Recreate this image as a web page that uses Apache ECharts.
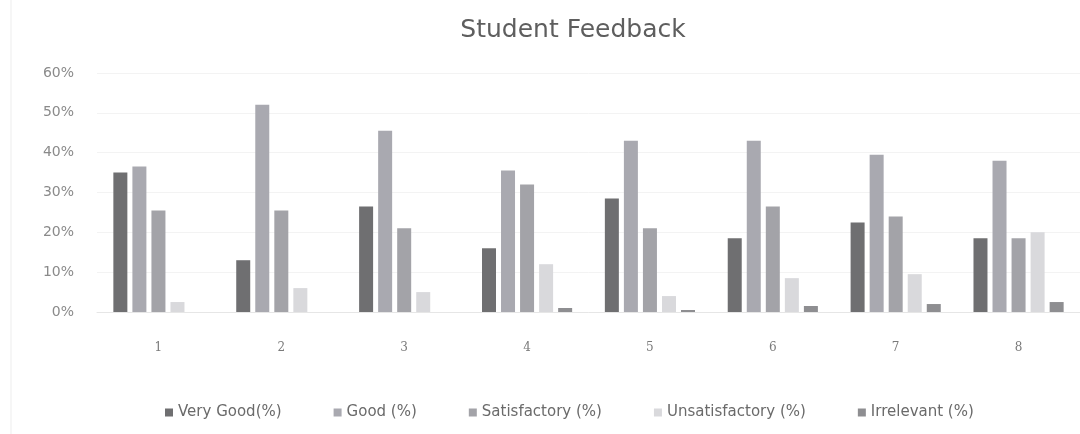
<!DOCTYPE html>
<html>
<head>
<meta charset="utf-8">
<script src="https://cdn.jsdelivr.net/npm/echarts@6/dist/echarts.min.js"></script>
<style>
html, body { margin: 0; padding: 0; background: #ffffff; }
#chart { width: 1080px; height: 434px; }
</style>
</head>
<body>
<div id="chart"></div>
<script>
// Survey question numbers
const categories = ['1', '2', '3', '4', '5', '6', '7', '8'];

// Share of responses per rating (%)
const veryGood       = [35, 13, 26.5, 16, 28.5, 18.5, 22.5, 18.5];
const good           = [36.5, 52, 45.5, 35.5, 43, 43, 39.5, 38];
const satisfactory   = [25.5, 25.5, 21, 32, 21, 26.5, 24, 18.5];
const unsatisfactory = [2.5, 6, 5, 12, 4, 8.5, 9.5, 20];
const irrelevant     = [0, 0, 0, 1, 0.5, 1.5, 2, 2.5];

const seriesNames = ['Very Good(%)', 'Good (%)', 'Satisfactory (%)', 'Unsatisfactory (%)', 'Irrelevant (%)'];
const seriesData = [veryGood, good, satisfactory, unsatisfactory, irrelevant];
const seriesColors = ['#6f6f71', '#a9a9b0', '#a3a3a8', '#d9d9dc', '#8e8e91'];

const chart = echarts.init(document.getElementById('chart'));

chart.setOption({
  backgroundColor: '#ffffff',
  animation: false,
  title: {
    text: 'Student Feedback',
    left: 568,
    top: 13,
    textAlign: 'center',
    textStyle: { fontFamily: 'DejaVu Sans', fontSize: 25, fontWeight: 'normal', color: '#5e5e5e' }
  },
  legend: {
    data: seriesNames,
    left: 160,
    top: 400,
    itemWidth: 8,
    itemHeight: 8,
    itemGap: 52,
    icon: 'rect',
    textStyle: { fontFamily: 'DejaVu Sans', fontSize: 15, color: '#6a6a6a' }
  },
  grid: { left: 97, right: -24, top: 73, bottom: 122, containLabel: false },
  graphic: [{
    type: 'line',
    shape: { x1: 11, y1: 0, x2: 11, y2: 434 },
    style: { stroke: '#ededed', lineWidth: 1 }
  }],
  xAxis: {
    type: 'category',
    data: categories,
    axisLine: { show: true, lineStyle: { color: '#e6e6e6' } },
    axisTick: { show: false },
    axisLabel: { fontFamily: 'DejaVu Serif', fontSize: 12, color: '#7a7a7a', margin: 30 }
  },
  yAxis: {
    type: 'value',
    min: 0,
    max: 60,
    interval: 10,
    axisLine: { show: false },
    axisTick: { show: false },
    splitLine: { lineStyle: { color: '#f3f3f3' } },
    axisLabel: { formatter: '{value}%', fontFamily: 'DejaVu Sans', fontSize: 14, color: '#8a8a8a', margin: 23 }
  },
  series: seriesNames.map((name, i) => ({
    name: name,
    type: 'bar',
    data: seriesData[i],
    barWidth: 14,
    barGap: '36%',
    itemStyle: { color: seriesColors[i] }
  }))
});
</script>
</body>
</html>
